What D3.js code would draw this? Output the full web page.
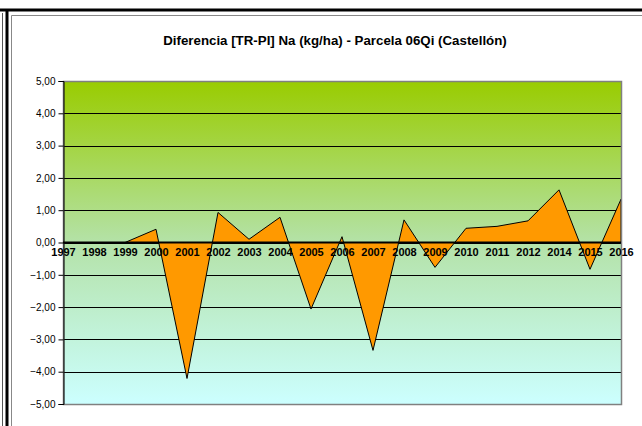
<!DOCTYPE html>
<html>
<head>
<meta charset="utf-8">
<script src="https://d3js.org/d3.v7.min.js"></script>
<style>
  body { margin: 0; background: #fff; }
  svg text { font-family: "Liberation Sans", Arial, sans-serif; fill: #000; }
</style>
</head>
<body>
<svg id="chart" width="642" height="426"></svg>
<script>
// data
var years = ["1997","1998","1999","2000","2001","2002","2003","2004","2005","2006",
             "2007","2008","2009","2010","2011","2012","2014","2015","2016"];
var diffNa = [0, 0, 0, 0.41, -4.21, 0.93, 0.10, 0.78, -2.06, 0.18,
              -3.34, 0.70, -0.77, 0.44, 0.50, 0.67, 1.63, -0.83, 1.34];
var yTicks = [5, 4, 3, 2, 1, 0, -1, -2, -3, -4, -5];
var title = "Diferencia [TR-PI] Na (kg/ha) - Parcela 06Qi (Castellón)";

var svg = d3.select("#chart");

// outer frame
svg.append("line").attr("x1", 0).attr("x2", 642).attr("y1", 10).attr("y2", 10)
   .attr("stroke", "#000").attr("stroke-width", 3);
svg.append("line").attr("x1", 7).attr("x2", 7).attr("y1", 9).attr("y2", 426)
   .attr("stroke", "#000").attr("stroke-width", 3);
svg.append("line").attr("x1", 2.5).attr("x2", 2.5).attr("y1", 13).attr("y2", 426)
   .attr("stroke", "#555").attr("stroke-width", 1);
svg.append("path").attr("d", "M11.5,426V15.5H642")
   .attr("fill", "none").attr("stroke", "#888").attr("stroke-width", 1);

var plotL = 63, plotR = 621, plotT = 81, plotB = 404;

var x = d3.scalePoint().domain(years).range([plotL, plotR]);
var y = d3.scaleLinear().domain([-5, 5]).range([plotB, plotT]);

// background gradient
var defs = svg.append("defs");
var grad = defs.append("linearGradient").attr("id", "bg")
   .attr("x1", 0).attr("y1", 0).attr("x2", 0).attr("y2", 1);
grad.append("stop").attr("offset", "0%").attr("stop-color", "#99cc00");
grad.append("stop").attr("offset", "50%").attr("stop-color", "#b4e2a8");
grad.append("stop").attr("offset", "100%").attr("stop-color", "#ccffff");

svg.append("rect").attr("x", plotL).attr("y", plotT)
   .attr("width", plotR - plotL).attr("height", plotB - plotT)
   .attr("fill", "url(#bg)");

// gridlines
svg.append("g").selectAll("line").data(yTicks.filter(function(d) { return d > -5 && d < 5; }))
   .join("line")
   .attr("x1", plotL).attr("x2", plotR)
   .attr("y1", function(d) { return Math.round(y(d)) + 0.5; })
   .attr("y2", function(d) { return Math.round(y(d)) + 0.5; })
   .attr("stroke", "#000").attr("stroke-width", 1);

// area
var area = d3.area()
   .x(function(d, i) { return x(years[i]); })
   .y0(y(0))
   .y1(function(d) { return y(d); });
svg.append("path").datum(diffNa)
   .attr("d", area)
   .attr("fill", "#ff9900")
   .attr("stroke", "#000").attr("stroke-width", 1).attr("stroke-linejoin", "miter");

// plot border
svg.append("rect").attr("x", plotL + 0.5).attr("y", plotT + 0.5)
   .attr("width", plotR - plotL).attr("height", plotB - plotT)
   .attr("fill", "none").attr("stroke", "#808080").attr("stroke-width", 1.5);

// zero line
svg.append("line").attr("x1", plotL).attr("x2", plotR)
   .attr("y1", y(0)).attr("y2", y(0))
   .attr("stroke", "#000").attr("stroke-width", 2);

// y axis
var yAxis = d3.axisLeft(y).tickValues(yTicks).tickSize(5).tickPadding(3)
   .tickFormat(function(d) { return d3.format(".2f")(d).replace(".", ","); });
var gy = svg.append("g").attr("transform", "translate(" + (plotL + 0.5) + ",0)").call(yAxis);
gy.select(".domain").attr("stroke", "#000");
gy.selectAll(".tick line").attr("stroke", "#000");
gy.selectAll("text").attr("font-size", "10px").attr("font-family", "Liberation Sans, Arial, sans-serif");

// x labels on zero line
var xAxis = d3.axisBottom(x).tickSize(0).tickPadding(6);
var gx = svg.append("g").attr("transform", "translate(0," + y(0) + ")").call(xAxis);
gx.select(".domain").remove();
gx.selectAll("text").attr("font-size", "11px").attr("font-weight", "bold")
   .attr("font-family", "Liberation Sans, Arial, sans-serif");

// title
svg.append("text").attr("x", 335).attr("y", 45)
   .attr("text-anchor", "middle")
   .attr("font-size", "13.3px").attr("font-weight", "bold")
   .text(title);
</script>
</body>
</html>
